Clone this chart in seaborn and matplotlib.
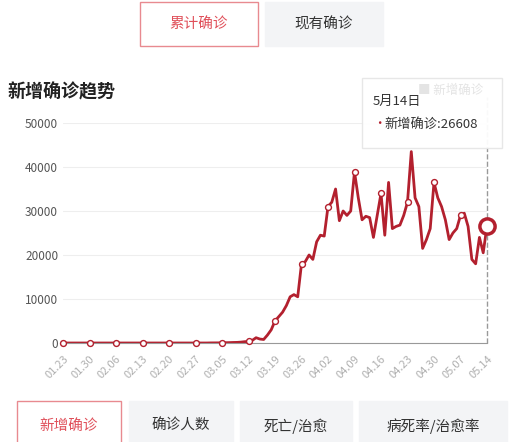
import numpy as np
import pandas as pd
import seaborn as sns
import matplotlib.pyplot as plt
from matplotlib.patches import Rectangle

sns.set_style('white')
plt.rcParams['font.family'] = ['Noto Sans CJK SC', 'DejaVu Sans']

# daily new confirmed, 01.23 - 05.14
early = [0] * 39  # 01.23 - 03.01
march = [20, 25, 30, 45, 70, 90, 120, 140, 200, 300, 350, 600, 1200, 900, 800, 1800, 3000,
         5000, 6000, 7000, 8500, 10500, 11000, 10500, 18000, 18500, 20000, 19000, 23000, 24500]
april = [24300, 31000, 32000, 35000, 27800, 30000, 29000, 30000, 38900, 33000, 28000, 28800,
         28500, 24000, 29000, 34000, 24500, 36500, 26000, 26500, 26800, 29000, 32000, 43500,
         33000, 31000, 21500, 23500, 26000, 36500]
may = [33000, 31000, 28000, 23500, 25000, 26000, 29000, 29500, 26500, 19000, 18000, 24000,
       20500, 26608]
values = early + march + april + may
dates = pd.date_range('2020-01-23', periods=len(values))
df = pd.DataFrame({'date': np.arange(len(values)), 'cases': values})
tick_idx = list(range(0, len(values), 7))
tick_labels = [dates[i].strftime('%m.%d') for i in tick_idx]

red = '#b3202e'
last = len(values) - 1
fig = plt.figure(figsize=(5.24, 4.42), dpi=100)
ax = fig.add_axes([63 / 524, 1 - 343 / 442, 424 / 524, 220 / 442])
sns.lineplot(data=df, x='date', y='cases', ax=ax, color=red, linewidth=2)
ax.scatter(tick_idx, [values[i] for i in tick_idx], s=18, facecolor='white', edgecolor=red,
           zorder=5, linewidth=1, clip_on=False)
ax.scatter([last], [values[-1]], s=120, facecolor='white', edgecolor=red, zorder=6,
           linewidth=2.5, clip_on=False)
ax.plot([last, last], [0, 56000], color='#999999', linestyle='--', linewidth=1, clip_on=False)
ax.set_xlim(0, last)
ax.set_ylim(0, 50000)
ax.set_yticks([0, 10000, 20000, 30000, 40000, 50000])
ax.set_xticks(tick_idx)
ax.set_xticklabels(tick_labels, rotation=45, ha='right', rotation_mode='anchor', fontsize=8, color='#b0b0b0')
ax.tick_params(axis='y', labelsize=8.5, colors='#555555', length=0)
ax.tick_params(axis='x', length=0, pad=8)
ax.grid(axis='y', color='#eeeeee')
ax.set_xlabel('')
ax.set_ylabel('')
for s in ['top', 'right', 'left']:
    ax.spines[s].set_visible(False)
ax.spines['bottom'].set_color('#999999')

fig.text(8 / 524, 1 - 92 / 442, '新增确诊趋势', fontsize=13, fontweight='bold', color='#222222', va='center')

# tooltip
fig.patches.append(Rectangle((362 / 524, 1 - 148 / 442), 140 / 524, 70 / 442, transform=fig.transFigure,
                             facecolor='white', edgecolor='#e6e6e6', alpha=0.95, zorder=10))
fig.text(373 / 524, 1 - 101 / 442, '5月14日', fontsize=9.5, color='#333333', va='center', zorder=11)
fig.text(373 / 524, 1 - 124 / 442, '•', fontsize=9, color=red, va='center', zorder=11)
fig.text(384 / 524, 1 - 124 / 442, '新增确诊:26608', fontsize=9.5, color='#333333', va='center', zorder=11)
fig.text(418 / 524, 1 - 90 / 442, '■ 新增确诊', fontsize=9, color='#e4e4e4', va='center', zorder=12)

# buttons
def button(x, y, w, h, text, fg, bg, edge):
    fig.patches.append(Rectangle((x / 524, 1 - (y + h) / 442), w / 524, h / 442, transform=fig.transFigure,
                                 facecolor=bg, edgecolor=edge, linewidth=1))
    fig.text((x + w / 2) / 524, 1 - (y + h / 2) / 442, text, fontsize=10.5, color=fg, ha='center', va='center')

button(140, 2, 118, 44, '累计确诊', '#e0505a', 'white', '#e88a90')
button(265, 2, 118, 44, '现有确诊', '#333333', '#f3f4f6', '#f3f4f6')
button(17, 401, 104, 50, '新增确诊', '#e0505a', 'white', '#e88a90')
button(129, 401, 104, 50, '确诊人数', '#333333', '#f3f4f6', '#f3f4f6')
button(240, 401, 112, 50, '死亡/治愈', '#333333', '#f3f4f6', '#f3f4f6')
button(359, 401, 148, 50, '病死率/治愈率', '#333333', '#f3f4f6', '#f3f4f6')

fig.savefig('out.png', dpi=100)
